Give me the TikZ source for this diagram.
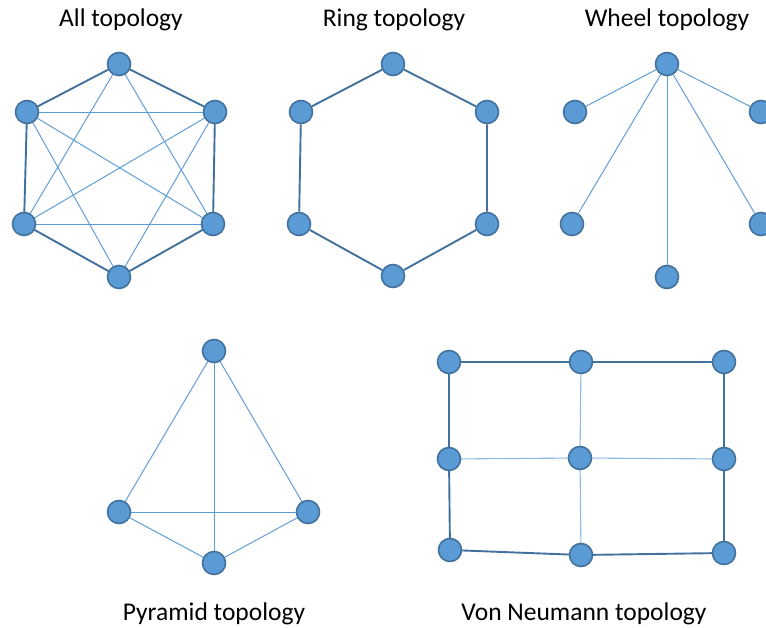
\documentclass[tikz,border=0pt]{standalone}
\usepackage{fontspec}
\setmainfont{Carlito}
\begin{document}
\begin{tikzpicture}[x=1pt,y=-1pt,
  vtx/.style={circle,fill=vfill,draw=vline,line width=1.6pt,minimum size=23pt,inner sep=0pt},
  rim/.style={draw=vline,line width=1.9pt},
  chord/.style={draw=vfill,line width=0.95pt},
  grid/.style={draw=vlight,line width=1.1pt},
  title/.style={anchor=base,font=\fontsize{25.5}{30}\selectfont,text=black,inner sep=0pt}]
\definecolor{vfill}{HTML}{5B9BD5}
\definecolor{vline}{HTML}{41719C}
\definecolor{vlight}{HTML}{8DB9E2}
\useasboundingbox (0,0) rectangle (766,628);
\clip (0,0) rectangle (766,628);

% ---------- titles ----------
\node[title] (tAll)   at (121,27)  {All topology};
\node[title] (tRing)  at (394,27)  {Ring topology};
\node[title] (tWheel) at (667,27)  {Wheel topology};
\node[title] (tPyr)   at (214,620) {Pyramid topology};
\node[title] (tVN)    at (584,620) {Von Neumann topology};

% ---------- all topology ----------
\coordinate (a1) at (119,64);
\coordinate (a2) at (27,112);
\coordinate (a3) at (215,112);
\coordinate (a4) at (24,224);
\coordinate (a5) at (213,224);
\coordinate (a6) at (119,277);
\foreach \u/\v in {a2/a3,a4/a5,a1/a4,a1/a5,a2/a5,a2/a6,a3/a4,a3/a6}
  \draw[chord] (\u) -- (\v);
\draw[rim] (a1) -- (a3) -- (a5) -- (a6) -- (a4) -- (a2) -- cycle;
\foreach \n in {a1,a2,a3,a4,a5,a6} \node[vtx] (n\n) at (\n) {};

% ---------- ring topology ----------
\node[vtx] (r1) at (393,64) {};
\node[vtx] (r2) at (301,112) {};
\node[vtx] (r3) at (487,112) {};
\node[vtx] (r4) at (299,224) {};
\node[vtx] (r5) at (487,224) {};
\node[vtx] (r6) at (393,276) {};
\draw[rim] (r1) -- (r3) -- (r5) -- (r6) -- (r4) -- (r2) -- (r1);

% ---------- wheel topology ----------
\node[vtx] (w0) at (667,64) {};
\node[vtx] (w1) at (575,112) {};
\node[vtx] (w2) at (761,112) {};
\node[vtx] (w3) at (572,224) {};
\node[vtx] (w4) at (761,224) {};
\node[vtx] (w5) at (667,277) {};
\foreach \v in {w1,w2,w3,w4,w5}
  \draw[chord] (w0) -- (\v);

% ---------- pyramid topology ----------
\coordinate (p1) at (214,351);
\coordinate (p2) at (119,512);
\coordinate (p3) at (308,512);
\coordinate (p4) at (214,563);
\foreach \u/\v in {p1/p2,p1/p3,p1/p4,p2/p3,p2/p4,p3/p4}
  \draw[chord] (\u) -- (\v);
\foreach \n in {p1,p2,p3,p4} \node[vtx] (n\n) at (\n) {};

% ---------- von Neumann topology ----------
\coordinate (v11) at (449,362);
\coordinate (v12) at (581,362);
\coordinate (v13) at (724,362);
\coordinate (v21) at (449,459);
\coordinate (v22) at (580,458);
\coordinate (v23) at (724,459);
\coordinate (v31) at (450,550);
\coordinate (v32) at (581,555);
\coordinate (v33) at (724,553);
\draw[grid] (v12) -- (v22) -- (v32);
\draw[grid] (v21) -- (v22) -- (v23);
\draw[rim] (v11) -- (v12) -- (v13) -- (v23) -- (v33) -- (v32) -- (v31) -- (v21) -- cycle;
\foreach \n in {v11,v12,v13,v21,v22,v23,v31,v32,v33} \node[vtx] (n\n) at (\n) {};
\end{tikzpicture}
\end{document}
